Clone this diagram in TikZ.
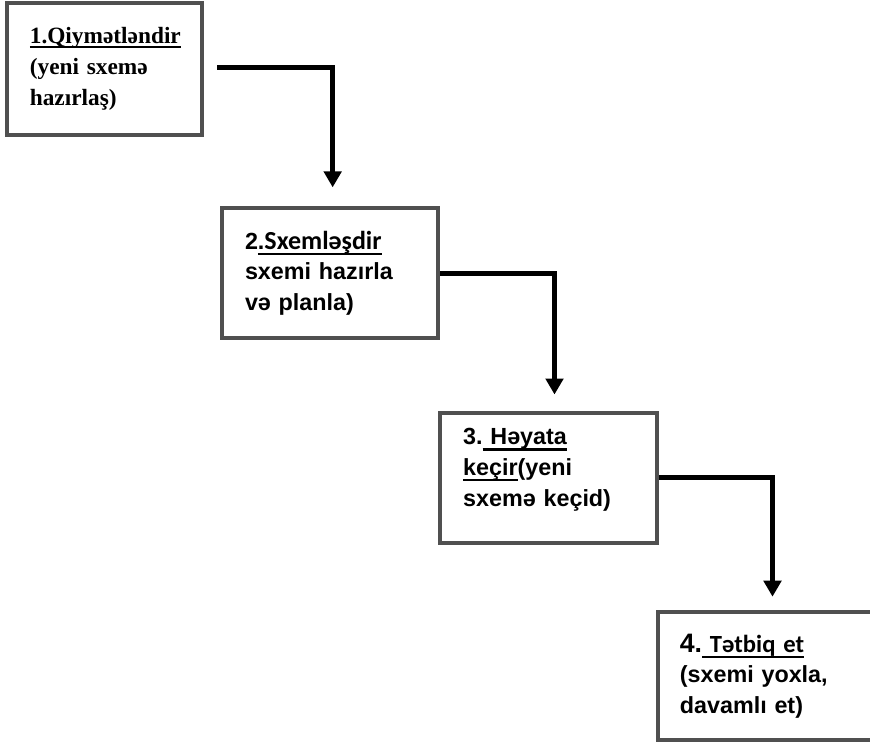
\documentclass[tikz,border=0pt]{standalone}
\usepackage{fontspec}
\setmainfont{Liberation Serif}
\newfontfamily\arialfont{Liberation Sans}
\newfontfamily\calibrifont{Carlito}
\usetikzlibrary{arrows.meta,positioning}
\definecolor{cFrame}{HTML}{505050}
% thick underline, #1 = gap below the baseline
\newcommand{\ulbar}[2][2.6pt]{\leavevmode\setbox0=\hbox{#2}\rlap{\vrule height -#1 depth \dimexpr#1+1.7pt\relax width \wd0}\box0}
\tikzset{
  stepbox/.style={draw=cFrame,line width=3pt,fill=white,align=left,inner sep=0pt,minimum height=97.5pt,font=\fontsize{17.5}{23}\selectfont\bfseries\arialfont},
  arr/.style={-{Triangle[length=12pt,width=13pt]},line width=3.75pt,line join=miter},
}

\begin{document}
\begin{tikzpicture}[x=0.75pt,y=-0.75pt]
    \useasboundingbox (0,0) rectangle (870,743);
    % the four steps, one under the other
    \node[stepbox,minimum width=146.25pt,minimum height=99pt,text width=112pt,font=\fontsize{17.5}{23}\selectfont\bfseries\rmfamily] (s1) at (104.5,69) {\ulbar[1.6pt]{1.Qiymətləndir}\\(yeni sxemə\\hazırlaş)};
    \node[stepbox,minimum width=162pt,text width=127.5pt] (s2) at (330,273) {2\ulbar[2.8pt]{.{\calibrifont\fontsize{19.5}{23}\selectfont Sxemləşdir}}\\sxemi hazırla\\və planla)};
    \node[stepbox,minimum width=162.75pt,text width=128pt] (s3) at (548.5,477.5) {3.\ulbar{\ Həyata}\\\ulbar{keçir}(yeni\\sxemə keçid)\\[-8pt]\mbox{}};
    \node[stepbox,minimum width=162.75pt,minimum height=96pt,text width=130pt] (s4) at (766.5,676) {{\fontsize{20}{23}\selectfont 4.}\ulbar[3pt]{\calibrifont\fontsize{18.5}{23}\selectfont\ Tətbiq et}\\(sxemi yoxla,\\davamlı et)};
    % elbow connectors
    \draw[arr,shorten <=10pt,shorten >=14pt] ([yshift=1.5pt]s1.east) -| ([xshift=2pt]s2.north);
    \draw[arr,shorten >=12pt] (s2.east) -| ([xshift=4.5pt]s3.north);
    \draw[arr,shorten >=10pt] (s3.east) -| ([xshift=4.5pt]s4.north);
\end{tikzpicture}
\end{document}
